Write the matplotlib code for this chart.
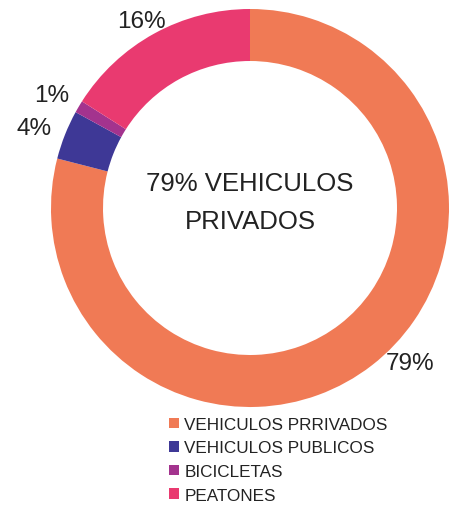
import numpy as np
import matplotlib.pyplot as plt
from matplotlib.patches import Patch

plt.rcParams['font.family'] = ['Liberation Sans', 'DejaVu Sans']

categories = ['VEHICULOS PRRIVADOS', 'VEHICULOS PUBLICOS', 'BICICLETAS', 'PEATONES']
values = [79, 4, 1, 16]
colors = ['#F07A55', '#3E3896', '#A3338E', '#E93A70']
pct_labels = ['79%', '4%', '1%', '16%']

W, H = 454, 510
fig = plt.figure(figsize=(W / 100, H / 100), dpi=100)
ax = fig.add_axes([0, 0, 1, 1])

cx, cy, r_out, r_in = 250, 209, 199, 147
# y axis is flipped (pixel coords), so start at -90 and run "ccw" to get clockwise on screen
ax.pie(values, colors=colors, startangle=-90, counterclock=True,
       radius=r_out, center=(cx, cy),
       wedgeprops=dict(width=r_out - r_in, linewidth=0))

# percent labels, placed by hand like the original
label_pos = [(410, 364), (34, 129), (52, 96), (141, 22)]
for txt, (x, y) in zip(pct_labels, label_pos):
    ax.text(x, y, txt, fontsize=17.5, ha='center', va='center', color='#222222')

ax.text(cx, cy - 6, '79% VEHICULOS\nPRIVADOS', fontsize=18.5, ha='center',
        va='center', color='#222222', linespacing=1.75)

ax.set_xlim(0, W)
ax.set_ylim(H, 0)
ax.set_aspect('equal')
ax.axis('off')

handles = [Patch(facecolor=c, edgecolor='none') for c in colors]
fig.legend(handles, categories, loc='upper left', bbox_to_anchor=(157 / W, 1 - 406 / H),
           frameon=False, fontsize=12.3, handlelength=0.6, handleheight=0.6,
           handletextpad=0.3, labelspacing=0.5, labelcolor='#222222',
           borderpad=0.2)

fig.savefig('out.png', dpi=100)
